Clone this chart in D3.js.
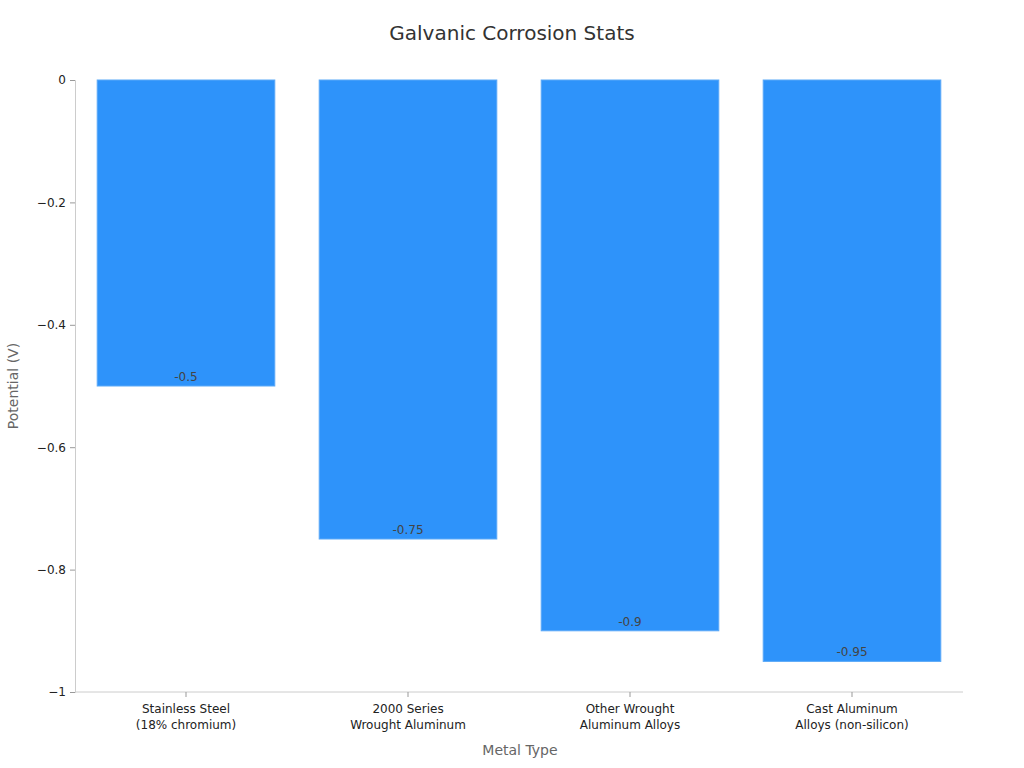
<!DOCTYPE html>
<html>
<head>
<meta charset="utf-8">
<script src="https://d3js.org/d3.v7.min.js"></script>
<style>
  body { margin: 0; background: #fff; }
  text { font-family: "DejaVu Sans", sans-serif; }
</style>
</head>
<body>
<svg id="chart" width="1024" height="768"></svg>
<script>
// chart data
const categories = [
  ["Stainless Steel", "(18% chromium)"],
  ["2000 Series", "Wrought Aluminum"],
  ["Other Wrought", "Aluminum Alloys"],
  ["Cast Aluminum", "Alloys (non-silicon)"]
];
const potentials = [-0.5, -0.75, -0.9, -0.95];
const yTicks = [0, -0.2, -0.4, -0.6, -0.8, -1];

const margin = {top: 80, right: 61, bottom: 76, left: 75};
const W = 1024, H = 768;
const svg = d3.select("#chart");

const x = d3.scaleBand()
  .domain(d3.range(categories.length))
  .range([margin.left, W - margin.right])
  .paddingInner(0.2)
  .paddingOuter(0.1);

const y = d3.scaleLinear()
  .domain([0, -1])
  .range([margin.top, H - margin.bottom]);

// bars
svg.selectAll("rect.bar")
  .data(potentials)
  .enter()
  .append("rect")
  .attr("class", "bar")
  .attr("x", (d, i) => x(i))
  .attr("y", y(0))
  .attr("width", x.bandwidth())
  .attr("height", d => y(d) - y(0))
  .style("fill", "#2E93FA")
  .style("stroke", "#5AA9F8")
  .style("stroke-width", 1);

// value labels
svg.selectAll("text.val")
  .data(potentials)
  .enter()
  .append("text")
  .attr("class", "val")
  .attr("x", (d, i) => x(i) + x.bandwidth() / 2)
  .attr("y", d => y(d) - 5)
  .attr("text-anchor", "middle")
  .style("font-size", "12px")
  .style("fill", "#444")
  .text(d => d);

// y axis
const yAxis = svg.append("g")
  .attr("transform", `translate(${margin.left},0)`)
  .call(d3.axisLeft(y).tickValues(yTicks).tickSize(5).tickPadding(4)
    .tickFormat(d => d === 0 ? "0" : String(d).replace("-", "\u2212")));
yAxis.select(".domain").style("stroke", "#ccc");
yAxis.selectAll(".tick line").style("stroke", "#999");
yAxis.selectAll(".tick text").style("font-size", "12px").style("fill", "#222")
  .style("font-family", "DejaVu Sans, sans-serif");

// x axis
const xAxis = svg.append("g")
  .attr("transform", `translate(0,${H - margin.bottom})`)
  .call(d3.axisBottom(x).tickSize(5).tickFormat(""));
xAxis.select(".domain").attr("d", `M${margin.left},0H${W - margin.right}`).style("stroke", "#ccc");
xAxis.selectAll(".tick line").style("stroke", "#999");

xAxis.selectAll(".tick").each(function(d) {
  const t = d3.select(this).append("text")
    .attr("text-anchor", "middle")
    .style("font-size", "12px")
    .style("fill", "#222");
  categories[d].forEach((line, k) => {
    t.append("tspan").attr("x", 0).attr("y", 21 + k * 16).text(line);
  });
});

// titles
svg.append("text")
  .attr("x", 512).attr("y", 40)
  .attr("text-anchor", "middle")
  .style("font-size", "20px")
  .style("fill", "#333")
  .text("Galvanic Corrosion Stats");

svg.append("text")
  .attr("x", 520).attr("y", 755)
  .attr("text-anchor", "middle")
  .style("font-size", "14px")
  .style("fill", "#666")
  .text("Metal Type");

svg.append("text")
  .attr("transform", `translate(18,${(margin.top + H - margin.bottom) / 2}) rotate(-90)`)
  .attr("text-anchor", "middle")
  .style("font-size", "14px")
  .style("fill", "#666")
  .text("Potential (V)");
</script>
</body>
</html>
